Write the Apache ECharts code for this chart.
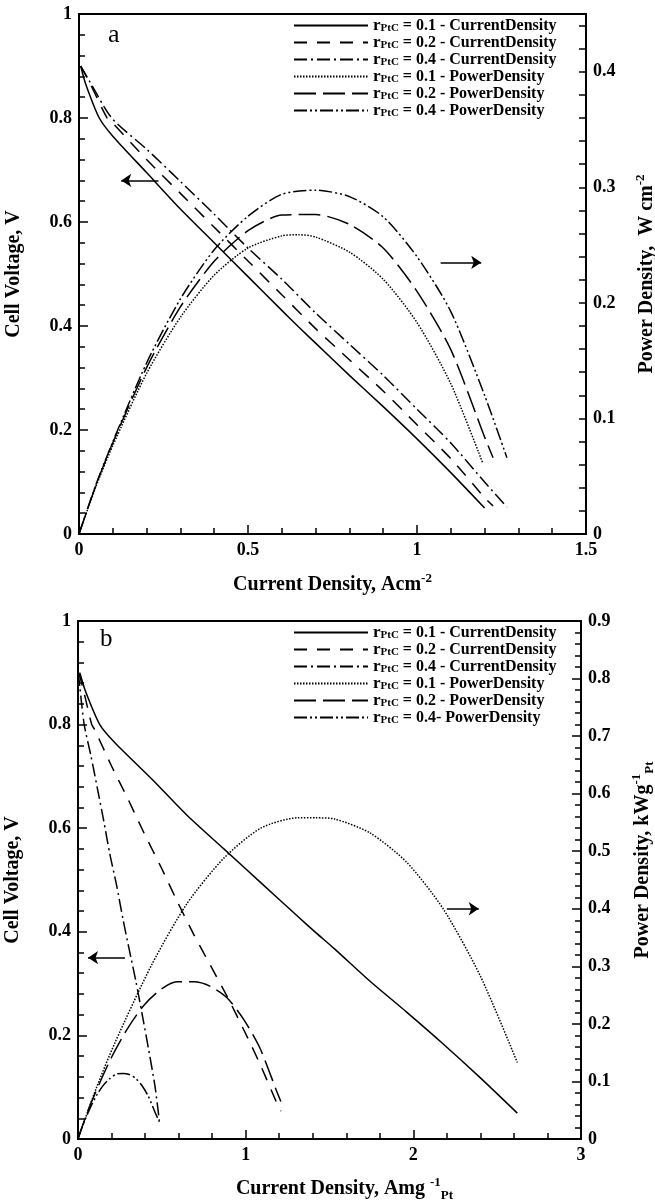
<!DOCTYPE html>
<html><head><meta charset="utf-8">
<script src="https://cdn.jsdelivr.net/npm/echarts@6/dist/echarts.min.js"></script>
<style>html,body{margin:0;padding:0;background:#fff}#c{width:655px;height:1202px}</style>
</head><body><div id="c"></div>
<script>
// ---------- Panel a (A cm^-2, W cm^-2) ----------
const aI_cd01 = [0.005,0.02,0.06,0.1,0.2,0.3,0.4,0.5,0.6,0.65,0.7,0.8,0.9,1.0,1.1,1.2];
const aV_cd01 = [0.9,0.865,0.80,0.765,0.695,0.625,0.56,0.495,0.43,0.398,0.367,0.305,0.245,0.183,0.118,0.05];
const aI_cd02 = [0.005,0.03,0.083,0.1,0.2,0.3,0.4,0.5,0.6,0.7,0.8,0.9,1.0,1.1,1.2,1.225];
const aV_cd02 = [0.9,0.87,0.80,0.79,0.72,0.655,0.59,0.525,0.46,0.395,0.335,0.275,0.21,0.145,0.07,0.054];
const aI_cd04 = [0.005,0.03,0.097,0.2,0.3,0.4,0.5,0.6,0.7,0.8,0.9,1.0,1.1,1.2,1.266];
const aV_cd04 = [0.9,0.872,0.80,0.74,0.678,0.615,0.55,0.49,0.425,0.365,0.305,0.24,0.175,0.10,0.052];
const aI_pd01 = [0,0.05,0.1,0.2,0.3,0.4,0.5,0.6,0.65,0.7,0.8,0.9,1.0,1.1,1.195];
const aP_pd01 = [0,0.041,0.0765,0.139,0.1875,0.224,0.2475,0.258,0.259,0.257,0.244,0.2205,0.183,0.13,0.061];
const aI_pd02 = [0,0.05,0.1,0.2,0.3,0.4,0.5,0.6,0.7,0.8,0.9,1.0,1.1,1.2,1.225];
const aP_pd02 = [0,0.042,0.079,0.144,0.1965,0.236,0.2625,0.276,0.2765,0.268,0.2475,0.21,0.1595,0.084,0.066];
const aI_pd04 = [0,0.05,0.1,0.2,0.3,0.4,0.5,0.6,0.7,0.8,0.9,1.0,1.1,1.2,1.266];
const aP_pd04 = [0,0.0427,0.0798,0.148,0.2034,0.246,0.275,0.294,0.2975,0.292,0.2745,0.24,0.1925,0.12,0.066];

// ---------- Panel b (A mg^-1 Pt, kW g^-1 Pt) ----------
const bI_cd01 = [0.011,0.044,0.13,0.22,0.44,0.65,0.87,1.09,1.31,1.42,1.53,1.74,1.96,2.18,2.40,2.62];
const bV_cd01 = [0.9,0.865,0.80,0.765,0.695,0.625,0.56,0.495,0.43,0.398,0.367,0.305,0.245,0.183,0.118,0.05];
const bI_cd02 = [0.005,0.03,0.082,0.1,0.2,0.3,0.395,0.495,0.59,0.69,0.79,0.89,0.99,1.085,1.185,1.21];
const bV_cd02 = [0.9,0.87,0.80,0.79,0.72,0.655,0.59,0.525,0.46,0.395,0.335,0.275,0.21,0.145,0.07,0.054];
const bI_cd04 = [0.002,0.011,0.037,0.077,0.115,0.153,0.19,0.23,0.268,0.306,0.345,0.383,0.42,0.46,0.485];
const bV_cd04 = [0.9,0.872,0.80,0.74,0.678,0.615,0.55,0.49,0.425,0.365,0.305,0.24,0.175,0.10,0.035];
const bI_pd01 = [0,0.11,0.22,0.44,0.65,0.87,1.09,1.31,1.42,1.53,1.74,1.96,2.18,2.40,2.62];
const bP_pd01 = [0,0.089,0.167,0.303,0.409,0.488,0.54,0.558,0.558,0.556,0.532,0.481,0.399,0.283,0.133];
const bI_pd02 = [0,0.05,0.1,0.2,0.3,0.395,0.495,0.59,0.69,0.79,0.89,0.99,1.085,1.185,1.21];
const bP_pd02 = [0,0.042,0.078,0.142,0.194,0.233,0.26,0.273,0.273,0.265,0.245,0.207,0.158,0.083,0.065];
const bI_pd04 = [0,0.019,0.038,0.077,0.115,0.153,0.19,0.23,0.268,0.306,0.345,0.383,0.42,0.46,0.485];
const bP_pd04 = [0,0.0164,0.0306,0.0567,0.078,0.094,0.105,0.113,0.114,0.112,0.105,0.092,0.074,0.046,0.03];

// legend labels
const legendA = ['= 0.1 - CurrentDensity','= 0.2 - CurrentDensity','= 0.4 - CurrentDensity','= 0.1 - PowerDensity','= 0.2 - PowerDensity','= 0.4 - PowerDensity'];
const legendB = ['= 0.1 - CurrentDensity','= 0.2 - CurrentDensity','= 0.4 - CurrentDensity','= 0.1 - PowerDensity','= 0.2 - PowerDensity','= 0.4- PowerDensity'];

// annotation arrows (data coords)
const arrowsA = {left:[[0.235,0.68],[0.125,0.68]], right:[[1.07,0.235],[1.19,0.235]]};
const arrowsB = {left:[[0.28,0.35],[0.06,0.35]], right:[[2.2,0.40],[2.39,0.40]]};

const FONT = 'Liberation Serif';
const dashes = {
  solid: 'solid',
  dash: [13,10],
  dashdot: [13,4,2,4],
  dot: [1.5,1.5],
  longdash: [22,7],
  dashdotdot: [13,3,2,3,2,3]
};
const styles = [dashes.solid, dashes.dash, dashes.dashdot, dashes.dot, dashes.longdash, dashes.dashdotdot];

function pairs(xs, ys){ return xs.map((x,i)=>[x, ys[i]]); }

function mkSeries(name, xi, yi, xs, ys, style, extra){
  return Object.assign({
    type:'line', name, xAxisIndex:xi, yAxisIndex:yi,
    data: pairs(xs, ys), symbol:'none', showSymbol:false, smooth:0.25,
    color:'#000', itemStyle:{color:'#000'},
    lineStyle:{color:'#000', width:1.5, type:style},
    silent:true
  }, extra||{});
}
function arrow(seg){
  return {
    silent:true, symbol:['none','arrow'], symbolSize:10,
    label:{show:false}, lineStyle:{color:'#000', width:1.5, type:'solid'},
    data:[[{coord:seg[0]},{coord:seg[1]}]], animation:false
  };
}

const namesA = legendA.map((t,i)=>'a'+i+'|'+t);
const namesB = legendB.map((t,i)=>'b'+i+'|'+t);

const series = [
  mkSeries(namesA[0],0,0,aI_cd01,aV_cd01,styles[0],{markLine:arrow(arrowsA.left)}),
  mkSeries(namesA[1],0,0,aI_cd02,aV_cd02,styles[1]),
  mkSeries(namesA[2],0,0,aI_cd04,aV_cd04,styles[2]),
  mkSeries(namesA[3],0,1,aI_pd01,aP_pd01,styles[3],{markLine:arrow(arrowsA.right)}),
  mkSeries(namesA[4],0,1,aI_pd02,aP_pd02,styles[4]),
  mkSeries(namesA[5],0,1,aI_pd04,aP_pd04,styles[5]),
  mkSeries(namesB[0],1,2,bI_cd01,bV_cd01,styles[0],{markLine:arrow(arrowsB.left)}),
  mkSeries(namesB[1],1,2,bI_cd02,bV_cd02,styles[1]),
  mkSeries(namesB[2],1,2,bI_cd04,bV_cd04,styles[2]),
  mkSeries(namesB[3],1,3,bI_pd01,bP_pd01,styles[3],{markLine:arrow(arrowsB.right)}),
  mkSeries(namesB[4],1,3,bI_pd02,bP_pd02,styles[4]),
  mkSeries(namesB[5],1,3,bI_pd04,bP_pd04,styles[5])
];

const labelStyle = {fontFamily:FONT, fontWeight:'bold', fontSize:18, color:'#000'};
const tickStyle = {color:'#000', width:1.5};
const nameRich = {
  t:{fontFamily:FONT, fontWeight:'bold', fontSize:20, color:'#000'},
  sup:{fontFamily:FONT, fontWeight:'bold', fontSize:13, color:'#000', padding:[0,0,12,0]},
  sub:{fontFamily:FONT, fontWeight:'bold', fontSize:13, color:'#000', padding:[14,0,0,0]}
};
function nameStyle(pad){
  return {fontFamily:FONT, fontWeight:'bold', fontSize:20, color:'#000', rich:nameRich, padding:pad||0};
}
function axisBase(){
  return {
    axisLine:{show:true, onZero:false, lineStyle:{color:'#000', width:2}},
    axisTick:{show:true, inside:true, length:9, lineStyle:tickStyle},
    minorTick:{show:true, splitNumber:5, length:6, lineStyle:tickStyle},
    splitLine:{show:false},
    axisLabel:Object.assign({margin:7}, labelStyle),
    nameTextStyle:nameStyle()
  };
}
function X(grid, max, interval, name, gap, extra){
  return Object.assign(axisBase(), {type:'value', gridIndex:grid, min:0, max, interval,
    name, nameLocation:'middle', nameGap:gap}, extra||{});
}
function Y(grid, max, interval, pos, name, gap, extra){
  const o = Object.assign(axisBase(), {type:'value', gridIndex:grid, min:0, max, interval, position:pos,
    name, nameLocation:'middle', nameGap:gap, nameRotate:90});
  return Object.assign(o, extra||{});
}

const legendRich = {
  r:{fontFamily:FONT, fontWeight:'bold', fontSize:17, color:'#000', lineHeight:15},
  s:{fontFamily:FONT, fontWeight:'bold', fontSize:11, color:'#000', lineHeight:11, padding:[5,0,0,0]},
  t:{fontFamily:FONT, fontWeight:'bold', fontSize:16, color:'#000', lineHeight:15}
};
function legend(names, left, top){
  return {
    data:names, orient:'vertical', left, top, itemWidth:74, itemHeight:14, itemGap:0,
    selectedMode:false,
    itemStyle:{color:'transparent', borderColor:'transparent', borderWidth:0, opacity:0},
    formatter: n => '{r|r}{s|PtC}{t| ' + n.split('|')[1] + '}',
    textStyle:{fontFamily:FONT, fontWeight:'bold', fontSize:16, color:'#000', rich:legendRich}
  };
}

const option = {
  animation:false,
  backgroundColor:'#fff',
  grid:[
    {left:79, right:69, top:14, height:520, show:true, borderColor:'#000', borderWidth:2, backgroundColor:'transparent', outerBoundsMode:'none', containLabel:false},
    {left:78, right:74, top:621, height:518, show:true, borderColor:'#000', borderWidth:2, backgroundColor:'transparent', outerBoundsMode:'none', containLabel:false}
  ],
  xAxis:[
    X(0, 1.5, 0.5, '{t|Current Density, Acm}{sup|-2}', 38),
    X(1, 3, 1, '{t|Current Density, Amg }{sup|-1}{sub|Pt}', 36, {nameTextStyle:nameStyle([0,0,0,30])})
  ],
  yAxis:[
    Y(0, 1, 0.2, 'left', '{t|Cell Voltage, V}', 55),
    Y(0, 0.45, 0.02, 'right', '{t|Power Density,  W cm}{sup|-2}', 48,
      {minorTick:{show:false}, axisTick:{show:true, inside:true, length:7, lineStyle:tickStyle},
       axisLabel:Object.assign({margin:7, showMaxLabel:false,
         formatter:v => (Math.abs(v*10 - Math.round(v*10)) < 1e-6 ? String(Math.round(v*10)/10) : '')}, labelStyle)}),
    Y(1, 1, 0.2, 'left', '{t|Cell Voltage, V}', 55),
    Y(1, 0.9, 0.1, 'right', '{t|Power Density, kWg}{sup|-1}{sub|Pt}', 48, {nameTextStyle:nameStyle([0,0,0,40])})
  ],
  legend:[legend(namesA, 288, 12), legend(namesB, 288, 619)],
  graphic:[
    {type:'text', left:108, top:22, style:{text:'a', font:'26px "Liberation Serif"', fill:'#000'}},
    {type:'text', left:100, top:627, style:{text:'b', font:'25px "Liberation Serif"', fill:'#000'}}
  ],
  series
};

const chart = echarts.init(document.getElementById('c'), null, {renderer:'canvas'});
chart.setOption(option);
</script>
</body></html>
